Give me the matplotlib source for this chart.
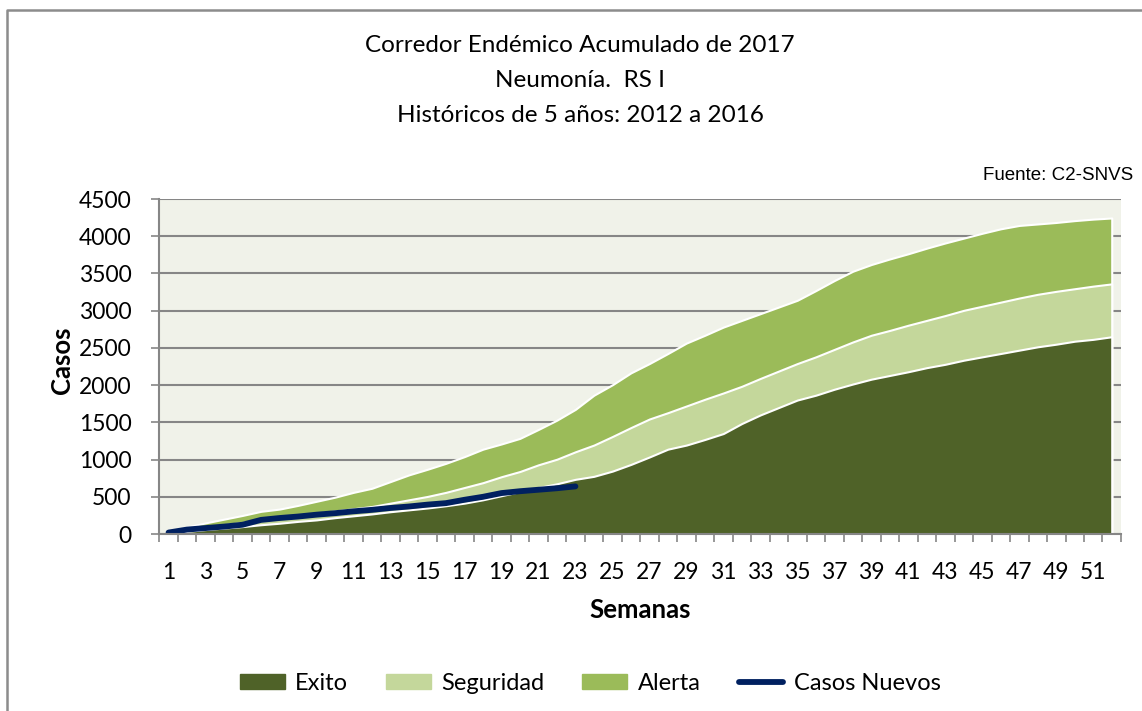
"""Corredor endemico acumulado 2017 - Neumonia RS I (semanas 1 a 52)."""
import matplotlib
matplotlib.use("Agg")
import matplotlib.pyplot as plt
import matplotlib.patches as mpatches
from matplotlib.lines import Line2D
import numpy as np

semanas = list(range(1, 53))

# limites acumulados de cada zona (valor superior de la banda)
exito = [5, 35, 60, 80, 100, 125, 145, 170, 190, 220, 245, 270, 300, 325, 350,
         380, 415, 460, 515, 570, 625, 675, 735, 775, 845, 935, 1035, 1140, 1195,
         1270, 1350, 1485, 1600, 1700, 1800, 1865, 1945, 2015, 2080, 2130, 2180,
         2235, 2280, 2335, 2380, 2425, 2470, 2515, 2550, 2590, 2615, 2650]
seguridad = [15, 60, 95, 125, 155, 200, 230, 250, 280, 310, 340, 370, 415, 460,
             505, 560, 625, 690, 770, 840, 930, 1005, 1105, 1195, 1310, 1430,
             1545, 1630, 1720, 1810, 1895, 1985, 2090, 2190, 2290, 2380, 2480,
             2580, 2670, 2735, 2805, 2870, 2935, 3005, 3060, 3115, 3170, 3220,
             3260, 3295, 3330, 3360]
alerta = [25, 95, 150, 200, 250, 305, 335, 385, 440, 495, 560, 615, 705, 795,
          870, 950, 1040, 1140, 1210, 1285, 1405, 1530, 1675, 1865, 2005, 2165,
          2290, 2425, 2565, 2670, 2780, 2870, 2960, 3050, 3140, 3270, 3405, 3530,
          3620, 3695, 3765, 3840, 3910, 3975, 4040, 4100, 4145, 4165, 4185, 4210,
          4230, 4245]
casos_nuevos = [20, 60, 80, 100, 125, 190, 215, 235, 260, 280, 305, 325, 350,
                370, 395, 415, 460, 500, 550, 575, 595, 615, 640]

C_EXITO = "#4F6228"
C_SEG = "#C4D79B"
C_ALERTA = "#9BBB59"
C_CASOS = "#002060"
C_GRID = "#868686"
FONT = "Lato"
FS = 16.5

fig = plt.figure(figsize=(11.42, 7.11), dpi=100)
ax = fig.add_axes([0.1395, 0.2489, 0.8421, 0.4712])
ax.set_facecolor("#F0F2E9")

x = np.array(semanas)
for vals, col in [(alerta, C_ALERTA), (seguridad, C_SEG), (exito, C_EXITO)]:
    ax.fill_between(x, 0, vals, facecolor=col, edgecolor="white", linewidth=1.5, zorder=2)
ax.plot(x[:len(casos_nuevos)], casos_nuevos, color=C_CASOS, lw=4.2,
        solid_capstyle="round", solid_joinstyle="round", zorder=4)

ax.set_xlim(0.5, 52.5)
ax.set_ylim(0, 4500)
ax.set_yticks(range(0, 4501, 500))
ax.yaxis.grid(True, color=C_GRID, lw=1.5, zorder=1)
ax.set_axisbelow(True)

# categorias: marcas entre semanas, etiquetas en semanas impares
ax.set_xticks(np.arange(0.5, 53, 1))
ax.set_xticklabels([])
ax.set_xticks(semanas[::2], minor=True)
ax.set_xticklabels([str(s) for s in semanas[::2]], minor=True)
ax.tick_params(axis="x", which="major", length=6, width=1.2, color=C_GRID)
ax.tick_params(axis="x", which="minor", length=0, pad=20, labelsize=FS)
ax.tick_params(axis="y", length=6, width=1.2, color=C_GRID, labelsize=FS, pad=14)
for lab in ax.get_xticklabels(minor=True) + ax.get_yticklabels():
    lab.set_fontfamily(FONT)

for s in ["top", "right"]:
    ax.spines[s].set_visible(False)
for s in ["left", "bottom"]:
    ax.spines[s].set_color(C_GRID)
    ax.spines[s].set_linewidth(1.5)
    ax.spines[s].set_zorder(5)

ax.set_xlabel("Semanas", fontsize=18.5, fontweight="bold", fontfamily=FONT)
ax.set_ylabel("Casos", fontsize=18.5, fontweight="bold", fontfamily=FONT)
ax.xaxis.set_label_coords(0.4998, -0.227)
ax.xaxis.label.set_va("center")
ax.yaxis.set_label_coords(-0.101, 0.52)
ax.yaxis.label.set_va("center")

titulo = ["Corredor Endémico Acumulado de 2017", "Neumonía.  RS I",
          "Históricos de 5 años: 2012 a 2016"]
for i, t in enumerate(titulo):
    fig.text(0.508, 1 - (46 + 34.5 * i) / 711, t, ha="center", va="center",
             fontsize=17.5, fontfamily=FONT)
fig.text(1133 / 1142, 1 - 175 / 711, "Fuente: C2-SNVS", ha="right", va="center",
         fontsize=13.5, fontfamily="Liberation Sans")

# borde del grafico (solo visible arriba y a la izquierda)
fig.add_artist(plt.Line2D([7 / 1142, 7 / 1142, 1.01], [-0.01, 1 - 10 / 711, 1 - 10 / 711],
                          transform=fig.transFigure, color="#8C8C8C", lw=1.8))

handles = [mpatches.Patch(color=C_EXITO, label="Exito"),
           mpatches.Patch(color=C_SEG, label="Seguridad"),
           mpatches.Patch(color=C_ALERTA, label="Alerta"),
           Line2D([0], [0], color=C_CASOS, lw=4.2, solid_capstyle="round", label="Casos Nuevos")]
fig.legend(handles=handles, loc="center", bbox_to_anchor=(0.517, 1 - 683 / 711), ncol=4,
           frameon=False, prop={"family": FONT, "size": 17}, handlelength=1.9,
           handleheight=0.6, handletextpad=0.45, columnspacing=1.6)

fig.savefig("out.png", dpi=100)
